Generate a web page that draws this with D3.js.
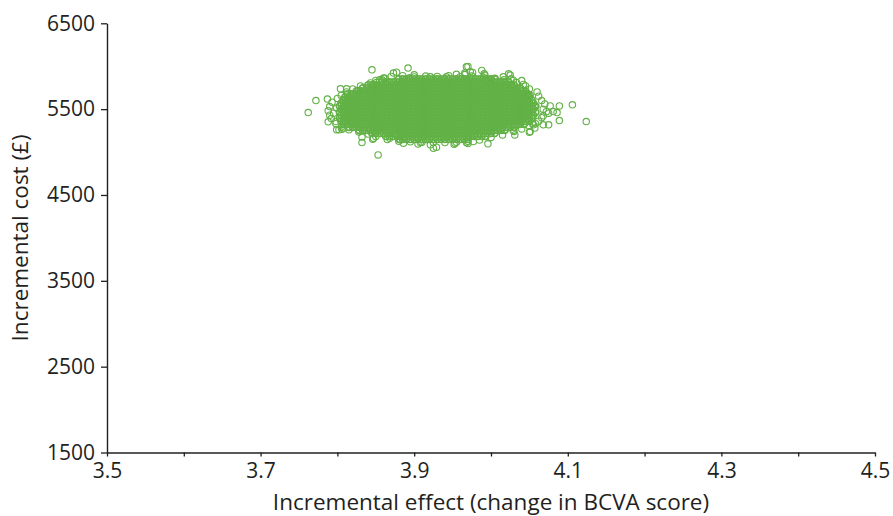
<!DOCTYPE html>
<html><head><meta charset="utf-8">
<script src="https://cdn.jsdelivr.net/npm/d3@7"></script>
<style>body{margin:0;background:#fff}text{font-family:"Open Sans",sans-serif;fill:#231f20}</style>
</head><body><svg id="c" width="893" height="516"></svg>
<script>
// ---- axis definitions ----
const xDomain = [3.5, 4.5];
const yDomain = [1500, 6500];
const xTicks = [3.5, 3.6, 3.7, 3.8, 3.9, 4.0, 4.1, 4.2, 4.3, 4.4, 4.5];
const xTickLabels = ["3.5", "", "3.7", "", "3.9", "", "4.1", "", "4.3", "", "4.5"];
const yTicks = [1500, 2500, 3500, 4500, 5500, 6500];
const yTickLabels = ["1500", "2500", "3500", "4500", "5500", "6500"];
const xTitle = "Incremental effect (change in BCVA score)";
const yTitle = "Incremental cost (£)";

// ---- dense core of the cloud: [incremental cost, [incremental effects]] ----
const coreRows = [
[5850,[3.88,3.885,3.89,3.895,3.9,3.905,3.91,3.915,3.92,3.925,3.93,3.935,3.94,3.945,3.95,3.955,3.96,3.965,3.97,3.975,3.98,3.985,3.99,3.995,4,4.005]],
[5815,[3.858,3.863,3.868,3.873,3.878,3.883,3.888,3.893,3.898,3.903,3.908,3.913,3.918,3.923,3.928,3.933,3.938,3.943,3.948,3.953,3.958,3.963,3.968,3.973,3.978,3.983,3.988,3.993,3.998,4.003,4.008,4.013,4.018,4.023]],
[5780,[3.84,3.845,3.85,3.855,3.86,3.865,3.87,3.875,3.88,3.885,3.89,3.895,3.9,3.905,3.91,3.915,3.92,3.925,3.93,3.935,3.94,3.945,3.95,3.955,3.96,3.965,3.97,3.975,3.98,3.985,3.99,3.995,4,4.005,4.01,4.015,4.02,4.025,4.03]],
[5745,[3.833,3.838,3.843,3.848,3.853,3.858,3.863,3.868,3.873,3.878,3.883,3.888,3.893,3.898,3.903,3.908,3.913,3.918,3.923,3.928,3.933,3.938,3.943,3.948,3.953,3.958,3.963,3.968,3.973,3.978,3.983,3.988,3.993,3.998,4.003,4.008,4.013,4.018,4.023,4.028,4.033,4.038]],
[5710,[3.825,3.83,3.835,3.84,3.845,3.85,3.855,3.86,3.865,3.87,3.875,3.88,3.885,3.89,3.895,3.9,3.905,3.91,3.915,3.92,3.925,3.93,3.935,3.94,3.945,3.95,3.955,3.96,3.965,3.97,3.975,3.98,3.985,3.99,3.995,4,4.005,4.01,4.015,4.02,4.025,4.03,4.035,4.04,4.045]],
[5675,[3.813,3.818,3.823,3.828,3.833,3.838,3.843,3.848,3.853,3.858,3.863,3.868,3.873,3.878,3.883,3.888,3.893,3.898,3.903,3.908,3.913,3.918,3.923,3.928,3.933,3.938,3.943,3.948,3.953,3.958,3.963,3.968,3.973,3.978,3.983,3.988,3.993,3.998,4.003,4.008,4.013,4.018,4.023,4.028,4.033,4.038,4.043,4.048]],
[5640,[3.81,3.815,3.82,3.825,3.83,3.835,3.84,3.845,3.85,3.855,3.86,3.865,3.87,3.875,3.88,3.885,3.89,3.895,3.9,3.905,3.91,3.915,3.92,3.925,3.93,3.935,3.94,3.945,3.95,3.955,3.96,3.965,3.97,3.975,3.98,3.985,3.99,3.995,4,4.005,4.01,4.015,4.02,4.025,4.03,4.035,4.04,4.045,4.05]],
[5605,[3.808,3.813,3.818,3.823,3.828,3.833,3.838,3.843,3.848,3.853,3.858,3.863,3.868,3.873,3.878,3.883,3.888,3.893,3.898,3.903,3.908,3.913,3.918,3.923,3.928,3.933,3.938,3.943,3.948,3.953,3.958,3.963,3.968,3.973,3.978,3.983,3.988,3.993,3.998,4.003,4.008,4.013,4.018,4.023,4.028,4.033,4.038,4.043,4.048,4.053]],
[5570,[3.805,3.81,3.815,3.82,3.825,3.83,3.835,3.84,3.845,3.85,3.855,3.86,3.865,3.87,3.875,3.88,3.885,3.89,3.895,3.9,3.905,3.91,3.915,3.92,3.925,3.93,3.935,3.94,3.945,3.95,3.955,3.96,3.965,3.97,3.975,3.98,3.985,3.99,3.995,4,4.005,4.01,4.015,4.02,4.025,4.03,4.035,4.04,4.045,4.05,4.055]],
[5535,[3.803,3.808,3.813,3.818,3.823,3.828,3.833,3.838,3.843,3.848,3.853,3.858,3.863,3.868,3.873,3.878,3.883,3.888,3.893,3.898,3.903,3.908,3.913,3.918,3.923,3.928,3.933,3.938,3.943,3.948,3.953,3.958,3.963,3.968,3.973,3.978,3.983,3.988,3.993,3.998,4.003,4.008,4.013,4.018,4.023,4.028,4.033,4.038,4.043,4.048,4.053,4.058]],
[5500,[3.805,3.81,3.815,3.82,3.825,3.83,3.835,3.84,3.845,3.85,3.855,3.86,3.865,3.87,3.875,3.88,3.885,3.89,3.895,3.9,3.905,3.91,3.915,3.92,3.925,3.93,3.935,3.94,3.945,3.95,3.955,3.96,3.965,3.97,3.975,3.98,3.985,3.99,3.995,4,4.005,4.01,4.015,4.02,4.025,4.03,4.035,4.04,4.045,4.05,4.055]],
[5465,[3.803,3.808,3.813,3.818,3.823,3.828,3.833,3.838,3.843,3.848,3.853,3.858,3.863,3.868,3.873,3.878,3.883,3.888,3.893,3.898,3.903,3.908,3.913,3.918,3.923,3.928,3.933,3.938,3.943,3.948,3.953,3.958,3.963,3.968,3.973,3.978,3.983,3.988,3.993,3.998,4.003,4.008,4.013,4.018,4.023,4.028,4.033,4.038,4.043,4.048,4.053,4.058]],
[5430,[3.805,3.81,3.815,3.82,3.825,3.83,3.835,3.84,3.845,3.85,3.855,3.86,3.865,3.87,3.875,3.88,3.885,3.89,3.895,3.9,3.905,3.91,3.915,3.92,3.925,3.93,3.935,3.94,3.945,3.95,3.955,3.96,3.965,3.97,3.975,3.98,3.985,3.99,3.995,4,4.005,4.01,4.015,4.02,4.025,4.03,4.035,4.04,4.045,4.05,4.055]],
[5395,[3.803,3.808,3.813,3.818,3.823,3.828,3.833,3.838,3.843,3.848,3.853,3.858,3.863,3.868,3.873,3.878,3.883,3.888,3.893,3.898,3.903,3.908,3.913,3.918,3.923,3.928,3.933,3.938,3.943,3.948,3.953,3.958,3.963,3.968,3.973,3.978,3.983,3.988,3.993,3.998,4.003,4.008,4.013,4.018,4.023,4.028,4.033,4.038,4.043,4.048,4.053]],
[5360,[3.805,3.81,3.815,3.82,3.825,3.83,3.835,3.84,3.845,3.85,3.855,3.86,3.865,3.87,3.875,3.88,3.885,3.89,3.895,3.9,3.905,3.91,3.915,3.92,3.925,3.93,3.935,3.94,3.945,3.95,3.955,3.96,3.965,3.97,3.975,3.98,3.985,3.99,3.995,4,4.005,4.01,4.015,4.02,4.025,4.03,4.035,4.04,4.045,4.05]],
[5325,[3.808,3.813,3.818,3.823,3.828,3.833,3.838,3.843,3.848,3.853,3.858,3.863,3.868,3.873,3.878,3.883,3.888,3.893,3.898,3.903,3.908,3.913,3.918,3.923,3.928,3.933,3.938,3.943,3.948,3.953,3.958,3.963,3.968,3.973,3.978,3.983,3.988,3.993,3.998,4.003,4.008,4.013,4.018,4.023,4.028,4.033,4.038,4.043]],
[5290,[3.815,3.82,3.825,3.83,3.835,3.84,3.845,3.85,3.855,3.86,3.865,3.87,3.875,3.88,3.885,3.89,3.895,3.9,3.905,3.91,3.915,3.92,3.925,3.93,3.935,3.94,3.945,3.95,3.955,3.96,3.965,3.97,3.975,3.98,3.985,3.99,3.995,4,4.005,4.01,4.015,4.02,4.025,4.03]],
[5255,[3.828,3.833,3.838,3.843,3.848,3.853,3.858,3.863,3.868,3.873,3.878,3.883,3.888,3.893,3.898,3.903,3.908,3.913,3.918,3.923,3.928,3.933,3.938,3.943,3.948,3.953,3.958,3.963,3.968,3.973,3.978,3.983,3.988,3.993,3.998,4.003,4.008,4.013,4.018]],
[5220,[3.845,3.85,3.855,3.86,3.865,3.87,3.875,3.88,3.885,3.89,3.895,3.9,3.905,3.91,3.915,3.92,3.925,3.93,3.935,3.94,3.945,3.95,3.955,3.96,3.965,3.97,3.975,3.98,3.985,3.99,3.995,4,4.005]],
[5185,[3.863,3.868,3.873,3.878,3.883,3.888,3.893,3.898,3.903,3.908,3.913,3.918,3.923,3.928,3.933,3.938,3.943,3.948,3.953,3.958,3.963,3.968,3.973,3.978,3.983,3.988,3.993]],
[5150,[3.88,3.885,3.89,3.895,3.9,3.905,3.91,3.915,3.92,3.925,3.93,3.935,3.94,3.945,3.95,3.955,3.96,3.965,3.97]]
];

// ---- ragged edge of the cloud: [effect, cost] ----
const edgePoints = [
[3.87,5880],[3.885,5890],[3.9,5875],[3.915,5885],[3.93,5880],[3.945,5890],[3.96,5878],[3.975,5885],[3.99,5870],[4.005,5860],
[3.862,5860],[3.85,5835],[3.843,5805],[3.9,5900],[3.955,5905],[3.86,5862],[3.855,5842],[3.894,5865],[3.921,5877],[3.942,5877],
[4.045,5770],[4.05,5735],[4.06,5700],[4.062,5650],[4.066,5600],[4.07,5560],[4.068,5500],[4.072,5470],[4.066,5400],[4.062,5360],
[4.058,5330],[4.05,5300],[4.04,5270],[4.03,5240],[4.015,5200],[4,5170],[3.985,5140],[3.97,5125],[3.955,5115],[3.94,5110],
[3.925,5110],[3.91,5115],[3.895,5120],[3.88,5125],[3.865,5145],[3.85,5180],[3.84,5210],[3.828,5235],[3.952,5090],[3.905,5095],
[3.97,5100],[3.815,5260],[3.805,5290],[3.798,5330],[3.792,5390],[3.79,5430],[3.788,5480],[3.79,5530],[3.793,5580],[3.8,5625],
[3.805,5660],[3.812,5700],[3.82,5735],[3.83,5770],[3.799,5259],[3.806,5267],[3.847,5162],[3.886,5104],[3.908,5111],[3.953,5104],
[3.968,5111],[3.977,5122],[4.051,5239],[4.055,5317],[4.016,5876],[4.025,5897],[4.029,5838],[4.027,5780],[4.018,5818],[4.038,5740],
[4.046,5682],[4.051,5663],[3.966,5903],[3.994,5838],[3.992,5897]
];

// ---- scattered outlying simulations: [effect, cost] ----
const outlierPoints = [
[3.845,5958],[3.892,5978],[3.772,5600],[3.787,5617],[3.762,5460],[3.788,5352],[3.804,5737],[3.812,5737],[3.802,5259],[3.832,5174],
[3.832,5111],[3.853,4967],[3.846,5150],[3.799,5512],[3.795,5453],[3.798,5355],[3.808,5355],[3.808,5279],[3.873,5920],[3.877,5931],
[3.858,5841],[3.851,5810],[3.847,5783],[3.827,5717],[3.832,5705],[3.868,5162],[3.882,5142],[3.921,5084],[3.929,5057],[3.925,5045],
[3.97,5997],[3.976,5927],[3.988,5950],[3.991,5911],[4.023,5911],[4.017,5841],[4.026,5853],[4.04,5833],[4.042,5787],[4.033,5810],
[4.049,5667],[4.057,5538],[4.077,5538],[4.089,5538],[4.106,5550],[4.068,5422],[4.075,5453],[4.081,5472],[4.086,5460],[4.068,5317],
[4.075,5317],[4.089,5367],[4.124,5355],[4.05,5232],[4.057,5279],[4.054,5337],[4.031,5200],[4.029,5251],[3.996,5096],[3.966,5920],
[4.038,5445],[4.04,5355],[3.968,5993],[3.973,5935]
];

const svg = d3.select("#c");
const x = d3.scaleLinear().domain(xDomain).range([107, 875]);
const y = d3.scaleLinear().domain(yDomain).range([452.5, 23.3]);
const green = "#62b146";
const ink = "#231f20";

// core points (dense, overlapping circles)
const corePts = [];
coreRows.forEach(([c, effs]) => effs.forEach(e => corePts.push([e, c])));
svg.append("g").selectAll("circle").data(corePts).join("circle")
  .attr("cx", d => x(d[0])).attr("cy", d => y(d[1])).attr("r", 3.3)
  .attr("fill", "none").attr("stroke", green).attr("stroke-width", 1.7);

// edge and outlying points
const loosePts = edgePoints.concat(outlierPoints);
svg.append("g").selectAll("circle").data(loosePts).join("circle")
  .attr("cx", d => x(d[0])).attr("cy", d => y(d[1])).attr("r", 3.2)
  .attr("fill", "none").attr("stroke", green).attr("stroke-width", 1.1);

// x axis
const xAxis = d3.axisBottom(x).tickValues(xTicks).tickSize(4).tickSizeOuter(0)
  .tickFormat((d, i) => xTickLabels[i]);
const gx = svg.append("g").attr("transform", `translate(0,${y(1500)})`).call(xAxis);
gx.select(".domain").attr("stroke", ink).attr("stroke-width", 1.4);
gx.selectAll(".tick line").attr("stroke", ink).attr("stroke-width", 1.3);
gx.selectAll(".tick text").attr("font-size", 21).attr("font-family", "Open Sans").attr("fill", ink).attr("y", 11).attr("dy", "0.71em");

// y axis
const yAxis = d3.axisLeft(y).tickValues(yTicks).tickSize(6).tickSizeOuter(0)
  .tickFormat((d, i) => yTickLabels[i]);
const gy = svg.append("g").attr("transform", `translate(${x(3.5)},0)`).call(yAxis);
gy.select(".domain").attr("stroke", ink).attr("stroke-width", 1.4);
gy.selectAll(".tick line").attr("stroke", ink).attr("stroke-width", 1.3);
gy.selectAll(".tick text").attr("font-size", 21).attr("font-family", "Open Sans").attr("fill", ink).attr("x", -12);

// titles
svg.append("text").attr("x", (x(3.5) + x(4.5)) / 2).attr("y", 510)
  .attr("text-anchor", "middle").attr("font-size", 22.5).text(xTitle);
svg.append("text").attr("transform", `translate(28,${(y(1500) + y(6500)) / 2}) rotate(-90)`)
  .attr("text-anchor", "middle").attr("font-size", 22.5).text(yTitle);
</script>
</body></html>
